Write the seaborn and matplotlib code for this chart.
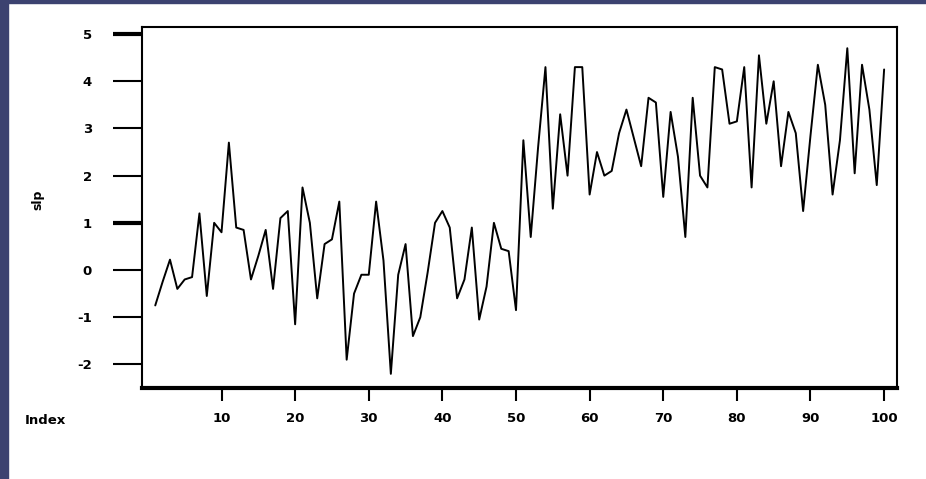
import numpy as np
import pandas as pd
import seaborn as sns
import matplotlib.pyplot as plt
from matplotlib.patches import Rectangle

# valores (índice 1..100)
indice = list(range(1, 101))
valores = [
    -0.75, -0.25, 0.22, -0.40, -0.20, -0.15, 1.20, -0.55, 1.00, 0.80,
    2.70, 0.90, 0.85, -0.20, 0.30, 0.85, -0.40, 1.10, 1.25, -1.15,
    1.75, 1.00, -0.60, 0.55, 0.65, 1.45, -1.90, -0.50, -0.10, -0.10,
    1.45, 0.20, -2.20, -0.10, 0.55, -1.40, -1.00, -0.05, 1.00, 1.25,
    0.90, -0.60, -0.20, 0.90, -1.05, -0.35, 1.00, 0.45, 0.40, -0.85,
    2.75, 0.70, 2.60, 4.30, 1.30, 3.30, 2.00, 4.30, 4.30, 1.60,
    2.50, 2.00, 2.10, 2.90, 3.40, 2.80, 2.20, 3.65, 3.55, 1.55,
    3.35, 2.40, 0.70, 3.65, 2.00, 1.75, 4.30, 4.25, 3.10, 3.15,
    4.30, 1.75, 4.55, 3.10, 4.00, 2.20, 3.35, 2.90, 1.25, 2.85,
    4.35, 3.50, 1.60, 2.75, 4.70, 2.05, 4.35, 3.40, 1.80, 4.25,
]
ticksY = [-2, -1, 0, 1, 2, 3, 4, 5]
ticksX = [10, 20, 30, 40, 50, 60, 70, 80, 90, 100]

df = pd.DataFrame({"Index": indice, "slp": valores})

sns.set_style("white")
plt.rcParams["font.family"] = ["DejaVu Sans"]
plt.rcParams["text.color"] = "black"

fig = plt.figure(figsize=(9.26, 4.79), dpi=100)
ax = fig.add_axes([142 / 926, 1 - 388 / 479, (897 - 142) / 926, (388 - 27) / 479])

sns.lineplot(data=df, x="Index", y="slp", color="black", linewidth=1.4, ax=ax)

ax.set_xlim(-0.8, 101.75)
ax.set_ylim(-2.5, 5.15)
ax.set_xticks(ticksX)
ax.set_yticks(ticksY)
ax.set_xticklabels([str(t) for t in ticksX], fontsize=9.5, fontweight="bold")
ax.set_yticklabels([str(t) for t in ticksY], fontsize=9.5, fontweight="bold")
ax.set_xlabel("")
ax.set_ylabel("")

ax.tick_params(axis="y", direction="out", length=21, width=1.5, pad=15, colors="black", left=True)
ax.tick_params(axis="x", direction="out", length=9, width=1.5, pad=8, colors="black", bottom=True)
for lado in ["left", "top", "right"]:
    ax.spines[lado].set_linewidth(1.5)
    ax.spines[lado].set_color("black")
ax.spines["bottom"].set_linewidth(3)
ax.spines["bottom"].set_color("black")

# ticks mais grossos no 1 e no 5
for t in ax.yaxis.get_major_ticks():
    if t.get_loc() in (1, 5):
        t.tick1line.set_markeredgewidth(3)

fig.text(25 / 926, 1 - 420 / 479, "Index", fontsize=9.5, fontweight="bold", color="black", ha="left", va="center")
fig.text(38 / 926, 1 - 200 / 479, "slp", fontsize=9, fontweight="bold", color="black", rotation=90, ha="center", va="center")

# moldura escura à esquerda e no topo
fig.patches.append(Rectangle((0, 0), 8 / 926, 1, transform=fig.transFigure, color="#3c4270", zorder=-1))
fig.patches.append(Rectangle((0, 1 - 3 / 479), 1, 3 / 479, transform=fig.transFigure, color="#3c4270", zorder=-1))

fig.savefig("out.png", dpi=100)
